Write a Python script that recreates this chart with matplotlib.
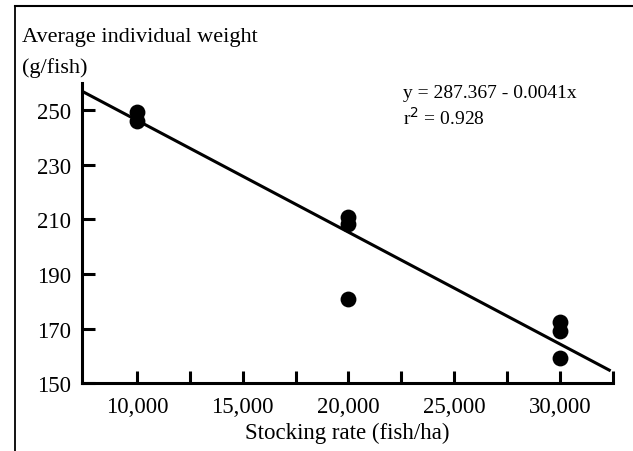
import matplotlib
matplotlib.use("Agg")
import matplotlib.pyplot as plt
from matplotlib.lines import Line2D
import numpy as np

plt.rcParams['font.family'] = ['Liberation Serif', 'DejaVu Serif']

# stocking rate (fish/ha) and average weight (g/fish)
stocking = [10000, 10000, 20000, 20000, 20000, 30000, 30000, 30000]
weight = [249.5, 246, 211, 208.5, 180.8, 172.3, 169.2, 159.2]

intercept = 287.367
slope = -0.0041
fit_x = [7400, 32400]

x_ticks = [10000, 12500, 15000, 17500, 20000, 22500, 25000, 27500, 30000, 32500]
x_labels = ['10,000', '', '15,000', '', '20,000', '', '25,000', '', '30,000', '']
y_ticks = [150, 170, 190, 210, 230, 250]

fig = plt.figure(figsize=(6.33, 4.52), dpi=100)
ax = fig.add_axes([0.1295, 0.150, 0.8385, 0.664])

fx = np.array(fit_x)
ax.plot(fx, intercept + slope * fx, color='black', lw=2.2, solid_capstyle='butt', zorder=2)
ax.scatter(stocking, weight, s=130, color='black', zorder=3, linewidths=0)

ax.set_xlim(7400, 32500)
ax.set_ylim(150, 260)
ax.set_xticks(x_ticks)
ax.set_xticklabels(x_labels)
ax.set_yticks(y_ticks)

for s in ['top', 'right']:
    ax.spines[s].set_visible(False)
for s in ['left', 'bottom']:
    ax.spines[s].set_linewidth(2.2)

ax.tick_params(axis='both', direction='in', length=9, width=2.2, labelsize=16.5, pad=8)
ax.tick_params(axis='x', pad=9)

ax.set_xlabel('Stocking rate (fish/ha)', fontsize=16.5, labelpad=4)
fig.text(22 / 633, 1 - 42 / 452, 'Average individual weight', fontsize=16, ha='left', va='baseline')
fig.text(22 / 633, 1 - 73 / 452, '(g/fish)', fontsize=16, ha='left', va='baseline')

ax.text(0.605, 0.955, 'y = 287.367 - 0.0041x', transform=ax.transAxes, fontsize=14, ha='left', va='baseline')
ax.text(0.605, 0.865, r'r$^2$ = 0.928', transform=ax.transAxes, fontsize=14, ha='left', va='baseline')

# frame lines around the figure
fig.add_artist(Line2D([15 / 633, 15 / 633], [0, 1 - 7 / 452], transform=fig.transFigure, color='black', lw=1.3))
fig.add_artist(Line2D([15 / 633, 1], [1 - 7 / 452, 1 - 7 / 452], transform=fig.transFigure, color='black', lw=1.5))

fig.savefig('out.png', dpi=100)
